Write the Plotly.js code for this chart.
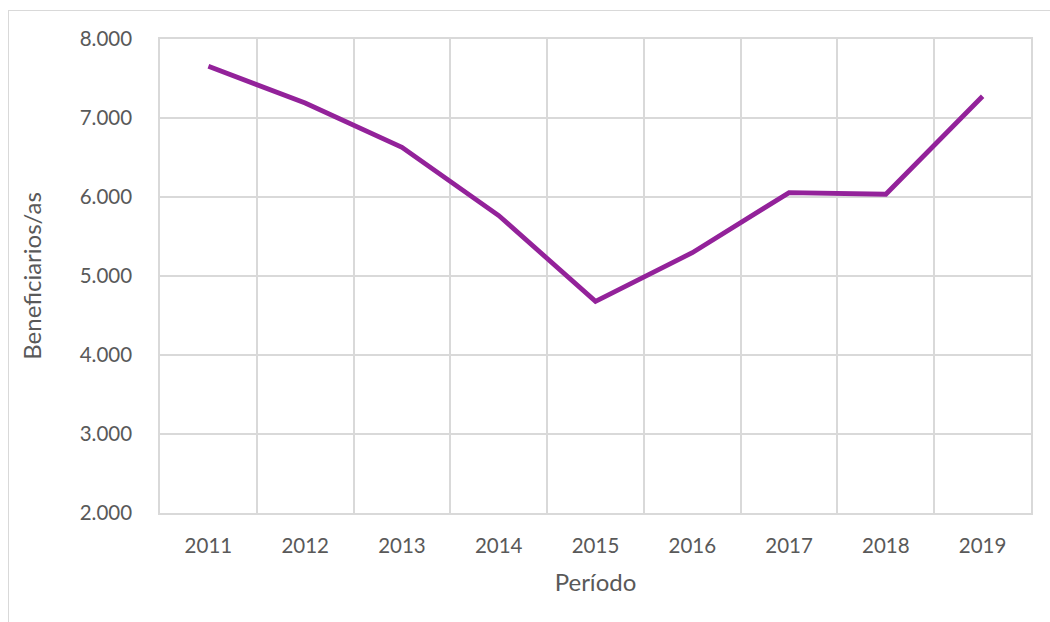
<!DOCTYPE html>
<html>
<head>
<meta charset="utf-8">
<script src="https://cdn.plot.ly/plotly-3.0.1.min.js"></script>
<style>
  html, body { margin: 0; padding: 0; background: #ffffff; }
  #frame { position: absolute; left: 8px; top: 10px; width: 1100px; height: 700px; border: 1px solid #d9d9d9; box-sizing: border-box; }
  #chart { position: absolute; left: 0; top: 0; width: 1050px; height: 622px; }
</style>
</head>
<body>
<div id="frame"></div>
<div id="chart"></div>
<script>
const years = ['2011', '2012', '2013', '2014', '2015', '2016', '2017', '2018', '2019'];
const beneficiarios = [7655, 7190, 6630, 5765, 4680, 5295, 6055, 6035, 7275];
const yTickVals = [2000, 3000, 4000, 5000, 6000, 7000, 8000];
const xTitle = 'Período';
const yTitle = 'Beneficiarios/as';

const fontFamily = 'Lato, "Open Sans", "DejaVu Sans", sans-serif';

const trace = {
  type: 'scatter',
  mode: 'lines',
  x: years,
  y: beneficiarios,
  line: { color: '#93229A', width: 4.8 },
  hoverinfo: 'x+y'
};

const layout = {
  width: 1050,
  height: 622,
  margin: { l: 160, r: 19, t: 39, b: 109 },
  paper_bgcolor: 'rgba(0,0,0,0)',
  plot_bgcolor: 'rgba(0,0,0,0)',
  separators: ',.',
  showlegend: false,
  font: { family: fontFamily, color: '#595959', size: 20 },
  xaxis: {
    type: 'category',
    range: [-0.5, 8.5],
    tickson: 'boundaries',
    showgrid: true,
    gridcolor: '#d9d9d9',
    gridwidth: 1.5,
    showline: true,
    linecolor: '#d9d9d9',
    linewidth: 1.5,
    mirror: true,
    zeroline: false,
    ticks: '',
    ticklabelstandoff: 14,
    tickfont: { family: fontFamily, size: 20.5, color: '#595959' },
    title: { text: xTitle, font: { family: fontFamily, size: 24, color: '#595959' }, standoff: 18 }
  },
  yaxis: {
    range: [2000, 8000],
    tickvals: yTickVals,
    tickformat: ',d',
    showgrid: true,
    gridcolor: '#d9d9d9',
    gridwidth: 1.5,
    showline: true,
    linecolor: '#d9d9d9',
    linewidth: 1.5,
    mirror: true,
    zeroline: false,
    ticks: '',
    ticklabelstandoff: 22,
    tickfont: { family: fontFamily, size: 20.5, color: '#595959' },
    title: { text: yTitle, font: { family: fontFamily, size: 24, color: '#595959' }, standoff: 31 }
  }
};

Plotly.newPlot('chart', [trace], layout, { displayModeBar: false });
</script>
</body>
</html>
